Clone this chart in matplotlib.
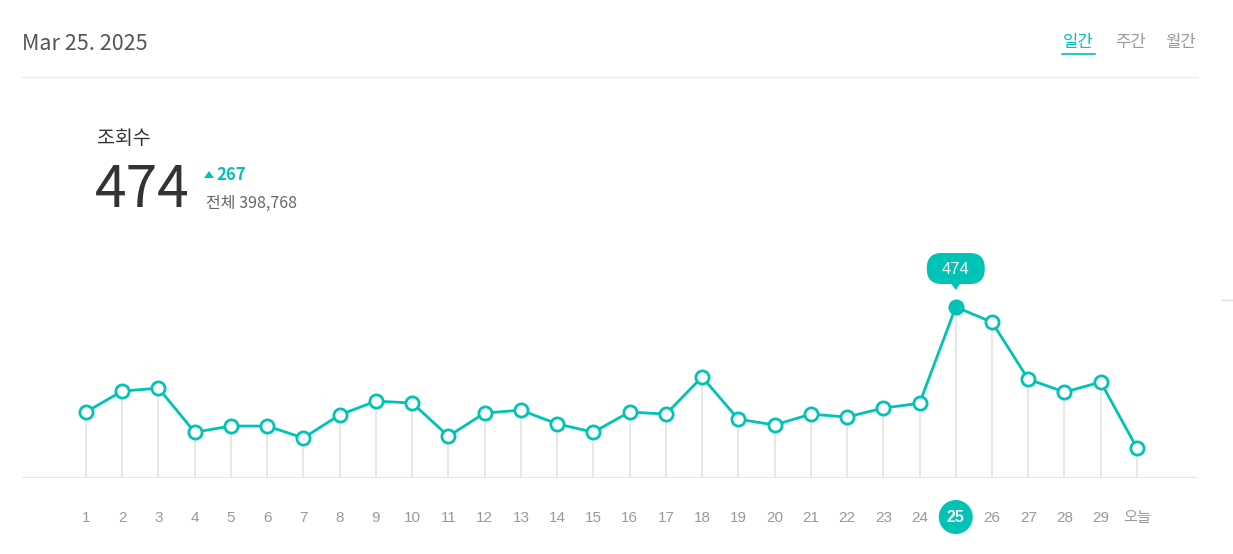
import numpy as np
import matplotlib
matplotlib.use("Agg")
from matplotlib import pyplot as plt
from matplotlib.patches import FancyBboxPatch, Circle, Polygon

plt.rcParams['font.family'] = ['Noto Sans CJK KR', 'DejaVu Sans']

# data
day_labels = [str(d) for d in range(1, 30)] + ["오늘"]
views = [183, 241, 249, 127, 144, 144, 111, 175, 213, 208,
         116, 180, 188, 150, 127, 183, 177, 280, 163, 147,
         177, 169, 194, 207, 474, 432, 274, 238, 266, 83]
selected = 24  # index of "25"
total_views = "398,768"
title_date = "Mar 25. 2025"
tabs = ["일간", "주간", "월간"]

teal = "#00c2b5"
W, H = 1233, 554
label_font = ['Liberation Sans', 'Noto Sans CJK KR']

fig = plt.figure(figsize=(W / 100, H / 100), dpi=100)

# overlay axes in pixel coordinates (y downwards)
ov = fig.add_axes([0, 0, 1, 1])
ov.set_xlim(0, W)
ov.set_ylim(H, 0)
ov.axis("off")

# header
ov.text(22, 44, title_date, fontsize=15.5, color="#555555", va="center", ha="left")
tab_x = [1078, 1130, 1181]
for i, (t, x) in enumerate(zip(tabs, tab_x)):
    ov.text(x, 43, t, fontsize=12, va="center", ha="center",
            color=teal if i == 0 else "#9a9a9a")
ov.plot([1062, 1095], [54, 54], color=teal, lw=1.2)
ov.plot([22, 1197], [77, 77], color="#eeeeee", lw=1)
ov.plot([1222, 1233], [300, 300], color="#dddddd", lw=1)

# summary
ov.text(97, 138, "조회수", fontsize=14, color="#333333", va="center", ha="left")
ov.text(95, 191, str(views[selected]), fontsize=41, color="#333333",
        va="center", ha="left")
diff = views[selected] - views[selected - 1]
ov.add_patch(Polygon([[204, 178], [214, 178], [209, 171]], closed=True,
                     fc=teal, ec="none"))
ov.text(216, 175, str(diff), fontsize=12, color=teal, va="center",
        ha="left", fontweight="bold")
ov.text(206, 203, "전체 " + total_views, fontsize=11.5, color="#666666",
        va="center", ha="left")

# chart axes
x0_px, dx_px = 86, 36.24
ax_left, ax_right, ax_top, ax_bottom = 22, 1197, 240, 478
ax = fig.add_axes([ax_left / W, 1 - ax_bottom / H, (ax_right - ax_left) / W,
                   (ax_bottom - ax_top) / H])
xs = np.arange(1, len(views) + 1)
ax.set_xlim(1 - (x0_px - ax_left) / dx_px, 1 + (ax_right - x0_px) / dx_px)
per_px = views[selected] / (478 - 307)
ax.set_ylim(0, (ax_bottom - ax_top) * per_px)
ax.axis("off")
ax.patch.set_alpha(0)

ax.vlines(xs, 0, views, color="#e3e3e3", lw=1.2, zorder=1)
ax.axhline(0, color="#e6e6e6", lw=1.5, zorder=1)
ax.plot(xs, views, color=teal, lw=2, zorder=2)
ax.plot(xs, views, "o", ms=9.5, mfc="white", mec=teal, mew=2, lw=0, zorder=3)
ax.plot(xs[selected], views[selected], "o", ms=10, mfc=teal, mec=teal, zorder=4)

# tooltip
sel_x = x0_px + selected * dx_px
ov.add_patch(FancyBboxPatch((sel_x - 29, 253), 58, 31,
                            boxstyle="round,pad=0,rounding_size=15",
                            fc=teal, ec="none"))
ov.add_patch(Polygon([[sel_x - 5, 283], [sel_x + 5, 283], [sel_x, 290]],
                     closed=True, fc=teal, ec="none"))
ov.text(sel_x, 269, str(views[selected]), fontsize=12, color="white",
        va="center", ha="center", family=label_font)

# x labels
for i, lab in enumerate(day_labels):
    xp = x0_px + i * dx_px
    if i == selected:
        ov.add_patch(Circle((xp, 517), 17, fc=teal, ec="none"))
        ov.text(xp, 518, lab, fontsize=11.5, color="white", ha="center",
                va="center", fontweight="bold", family=label_font)
    else:
        ov.text(xp, 518, lab, fontsize=11, color="#999999",
                ha="center", va="center", family=label_font)

plt.savefig("out.png", dpi=100)
